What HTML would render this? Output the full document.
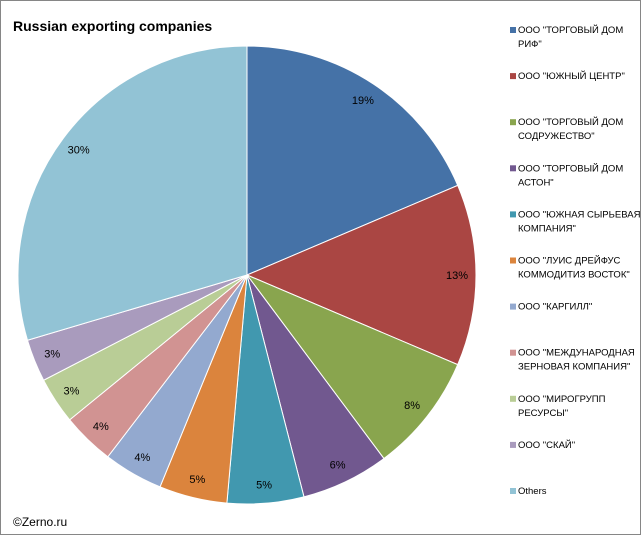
<!DOCTYPE html>
<html><head><meta charset="utf-8"><style>
body{margin:0;background:#fff}
svg{display:block;font-family:"Liberation Sans","DejaVu Sans",sans-serif}
</style></head><body>
<svg id="c" width="641" height="535" viewBox="0 0 641 535">
<rect x="0.5" y="0.5" width="640" height="534" fill="#fff" stroke="#868686"/>
<text x="13" y="31" font-size="14" font-weight="bold" fill="#000">Russian exporting companies</text>
<text x="13" y="526" font-size="12" fill="#000">©Zerno.ru</text>
<g id="slices"></g><g id="labels"></g><g id="legend"></g>
</svg>
<script>
const categories=['ООО "ТОРГОВЫЙ ДОМ|РИФ"','ООО "ЮЖНЫЙ ЦЕНТР"','ООО "ТОРГОВЫЙ ДОМ|СОДРУЖЕСТВО"','ООО "ТОРГОВЫЙ ДОМ|АСТОН"','ООО "ЮЖНАЯ СЫРЬЕВАЯ|КОМПАНИЯ"','ООО "ЛУИС ДРЕЙФУС|КОММОДИТИЗ ВОСТОК"','ООО "КАРГИЛЛ"','ООО "МЕЖДУНАРОДНАЯ|ЗЕРНОВАЯ КОМПАНИЯ"','ООО "МИРОГРУПП|РЕСУРСЫ"','ООО "СКАЙ"','Others'];
const values=[18.6,12.8,8.4,6.2,5.4,4.8,4.2,3.7,3.3,3.0,29.6];
const colors=['#4572a7','#aa4643','#89a54e','#71588f','#4198af','#db843d','#93a9cf','#d19392','#b9cd96','#a99bbd','#92c3d5'];
const NS='http://www.w3.org/2000/svg';
const cx=247,cy=275,R=229,LR=210;
const total=values.reduce((a,b)=>a+b,0);
function angle(v){return v/total*Math.PI*2;}
function pt(a,r){return [cx+r*Math.sin(a),cy-r*Math.cos(a)];}
const gS=document.getElementById('slices'),gL=document.getElementById('labels'),gG=document.getElementById('legend');
let a0=0;
values.forEach((v,i)=>{
  const a1=a0+angle(v);
  const p0=pt(a0,R),p1=pt(a1,R);
  const p=document.createElementNS(NS,'path');
  p.setAttribute('d',`M${cx},${cy}L${p0[0]},${p0[1]}A${R},${R} 0 ${a1-a0>Math.PI?1:0} 1 ${p1[0]},${p1[1]}Z`);
  p.setAttribute('fill',colors[i]);p.setAttribute('stroke','#fff');p.setAttribute('stroke-width','1');
  
  
  gS.appendChild(p);
  const lp=pt((a0+a1)/2,LR);
  const t=document.createElementNS(NS,'text');
  t.setAttribute('x',lp[0]);t.setAttribute('y',lp[1]+4);t.setAttribute('font-size','11');t.setAttribute('text-anchor','middle');
  t.textContent=Math.round(v)+'%';
  
  
  gL.appendChild(t);
  a0=a1;
});
categories.forEach((c,i)=>{
  const y=33+i*46.1;
  const g=document.createElementNS(NS,'g');
  
  
  const r=document.createElementNS(NS,'rect');
  r.setAttribute('x',510);r.setAttribute('y',y-6);r.setAttribute('width',6);r.setAttribute('height',6);r.setAttribute('fill',colors[i]);
  g.appendChild(r);
  c.split('|').forEach((line,j)=>{
    const t=document.createElementNS(NS,'text');
    t.setAttribute('x',518);t.setAttribute('y',y+j*14);t.setAttribute('font-size','9.5');t.setAttribute('fill','#000');
    t.textContent=line;g.appendChild(t);
  });
  gG.appendChild(g);
});
</script>
</body></html>
